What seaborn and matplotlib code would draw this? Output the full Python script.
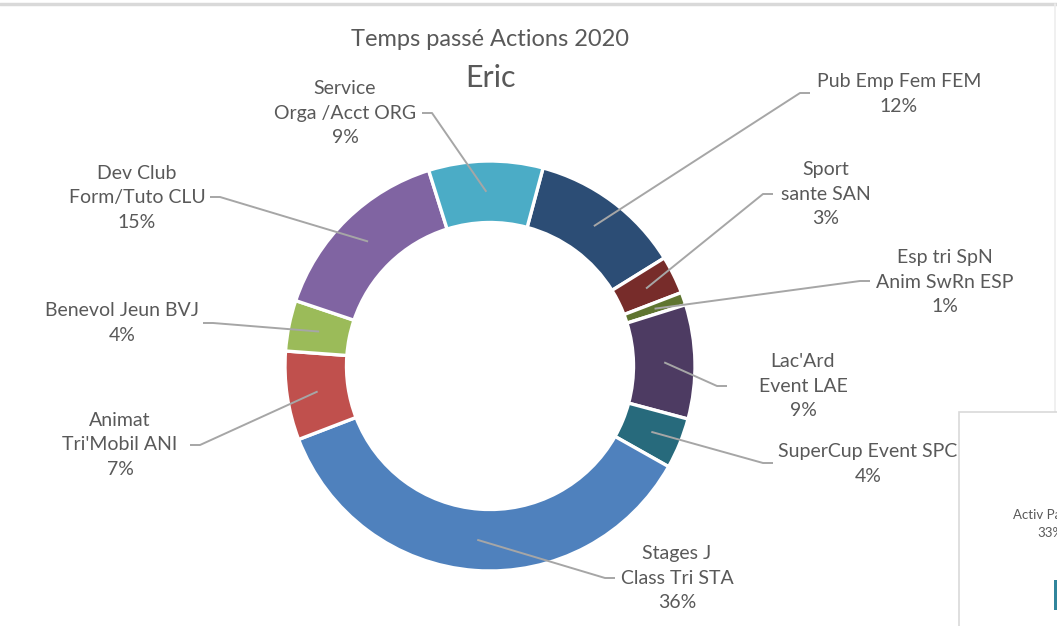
import matplotlib
matplotlib.use("Agg")
import matplotlib.pyplot as plt
import seaborn as sns
import numpy as np
from matplotlib.patches import Rectangle
from matplotlib.lines import Line2D

sns.set_theme(style="white")
plt.rcParams['font.family'] = ['Lato', 'DejaVu Sans']

# data
actions = ["Pub Emp Fem FEM", "Sport\nsante SAN", "Esp tri SpN\nAnim SwRn ESP",
           "Lac'Ard\nEvent LAE", "SuperCup Event SPC", "Stages J\nClass Tri STA",
           "Animat\nTri'Mobil ANI", "Benevol Jeun BVJ", "Dev Club\nForm/Tuto CLU",
           "Service\nOrga /Acct ORG"]
shares = [12, 3, 1, 9, 4, 36, 7, 4, 15, 9]
colors = ["#2C4D75", "#772C2A", "#5F7530", "#4D3B62", "#276A7C",
          "#4F81BD", "#C0504D", "#9BBB59", "#8064A2", "#4BACC6"]

# label layout (pixel positions): text centre, leader end
text_pos = [(899, 94), (826, 194), (945, 282), (803, 386), (868, 464),
            (677, 578), (120, 445), (122, 323), (137, 198), (345, 113)]
line_end = [(810, 93), (773, 194), (870, 281), (727, 386), (773, 463),
            (615, 578), (190, 445), (203, 323), (210, 197), (422, 113)]

W, H = 1057, 626
CX, CY, R = 490, 366, 205


def to_data(x, y):
    return (x - CX) / R, (CY - y) / R


fig = plt.figure(figsize=(W / 100, H / 100), dpi=100)
ax = fig.add_axes([0, 0, 1, 1])

wedges, _ = ax.pie(shares, colors=colors, startangle=75, counterclock=False,
                   radius=1.0,
                   wedgeprops=dict(width=0.30, edgecolor="white", linewidth=2.4))
ax.set_xlim(to_data(0, 0)[0], to_data(W, 0)[0])
ax.set_ylim(to_data(0, H)[1], to_data(0, 0)[1])
ax.axis("off")

grey = "#595959"
line_col = "#A6A6A6"

for w, lab, pct, tp, le in zip(wedges, actions, shares, text_pos, line_end):
    ang = np.deg2rad((w.theta1 + w.theta2) / 2)
    rmid = w.r - w.width / 2
    sx, sy = rmid * np.cos(ang), rmid * np.sin(ang)
    ex, ey = to_data(*le)
    right = le[0] > CX
    bx = ex - 10 / R if right else ex + 10 / R
    ax.plot([sx, bx, ex], [sy, ey, ey], color=line_col, lw=1.4,
            solid_capstyle="butt", zorder=3)
    tx, ty = to_data(*tp)
    ax.text(tx, ty, f"{lab}\n{pct}%", ha="center", va="center",
            multialignment="center", fontsize=14, color=grey,
            linespacing=1.55)

# titles
fig.text(490 / W, 1 - 40 / H, "Temps passé Actions 2020", ha="center",
         va="center", fontsize=17, color=grey)
fig.text(490 / W, 1 - 78 / H, "Eric", ha="center", va="center",
         fontsize=22, color=grey)

# chart frame borders
fig.add_artist(Line2D([0, 1], [1 - 4 / H, 1 - 4 / H], color="#D9D9D9", lw=2.5))
fig.add_artist(Line2D([1055 / W, 1055 / W], [1 - 4 / H, 1 - 412 / H],
                      color="#EDEDED", lw=1.2))

# neighbouring chart fragment at bottom right
fig.add_artist(Rectangle((959 / W, -0.05), 0.2, 0.05 + (H - 412) / H,
                         transform=fig.transFigure, facecolor="white",
                         edgecolor="#D9D9D9", lw=1.2, zorder=5))
fig.text(1013 / W, 1 - 515 / H, "Activ Pa", ha="left", va="center",
         fontsize=9.5, color=grey, zorder=6)
fig.text(1037 / W, 1 - 533 / H, "33%", ha="left", va="center",
         fontsize=9.5, color=grey, zorder=6)
fig.add_artist(Rectangle((1054 / W, 1 - 610 / H), 4 / W, 30 / H,
                         transform=fig.transFigure, facecolor="#31859C",
                         edgecolor="none", zorder=6))

fig.savefig("out.png", dpi=100, facecolor="white")
